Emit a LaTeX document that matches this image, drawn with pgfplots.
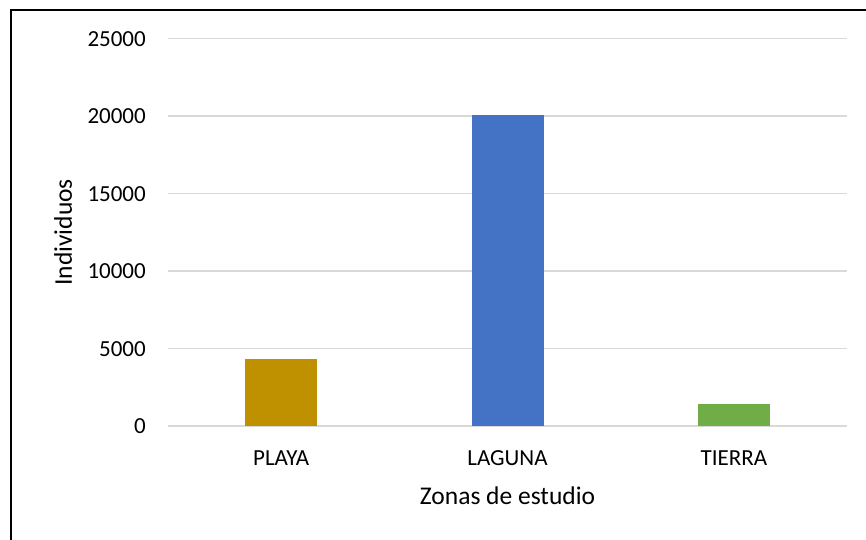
\documentclass[border=0pt]{standalone}
\usepackage{fontspec}
\setmainfont{Carlito}
\usepackage{pgfplots}
\pgfplotsset{compat=1.18}
\definecolor{cPlaya}{HTML}{BF9000}
\definecolor{cLaguna}{HTML}{4472C4}
\definecolor{cTierra}{HTML}{70AD47}
\definecolor{gridc}{HTML}{D9D9D9}
\begin{document}
\begin{tikzpicture}[x=1bp,y=1bp]
\begin{axis}[
  at={(0,0)}, anchor=south west,
  scale only axis, width=679bp, height=387.5bp,
  xmin=-0.5, xmax=2.5, ymin=0, ymax=25000,
  ytick={0,5000,10000,15000,20000,25000},
  xtick={0,1,2}, xticklabels={PLAYA,LAGUNA,TIERRA},
  axis line style={draw=none},
  major tick length=0pt,
  ymajorgrids, grid style={gridc, line width=1.5bp},
  scaled y ticks=false,
  /pgf/number format/assume math mode=true,
  /pgf/number format/1000 sep={},
  yticklabel style={font=\fontsize{23bp}{27bp}\selectfont, inner sep=0pt, anchor=east, xshift=-22bp},
  xticklabel style={font=\fontsize{23bp}{27bp}\selectfont, inner sep=0pt, anchor=north, yshift=-24bp},
  xlabel={Zonas de estudio},
  ylabel={Individuos},
  xlabel style={font=\fontsize{25.5bp}{30bp}\selectfont, at={(axis description cs:0.5,-0.18)}, anchor=center},
  ylabel style={font=\fontsize{25.5bp}{30bp}\selectfont, at={(axis description cs:-0.1546,0.5)}, anchor=center, rotate=0},
]
\addplot[ybar, bar width=72bp, bar shift=0pt, fill=cPlaya, draw=none] coordinates {(0,4360)};
\addplot[ybar, bar width=72bp, bar shift=0pt, fill=cLaguna, draw=none] coordinates {(1,20100)};
\addplot[ybar, bar width=72bp, bar shift=0pt, fill=cTierra, draw=none] coordinates {(2,1450)};
\end{axis}
\draw[line width=2bp, black] (-157,-130) -- (-157,416.2) -- (720,416.2);
\pgfresetboundingbox
\useasboundingbox (-168,-113.8) rectangle (698,426.2);
\end{tikzpicture}
\end{document}
